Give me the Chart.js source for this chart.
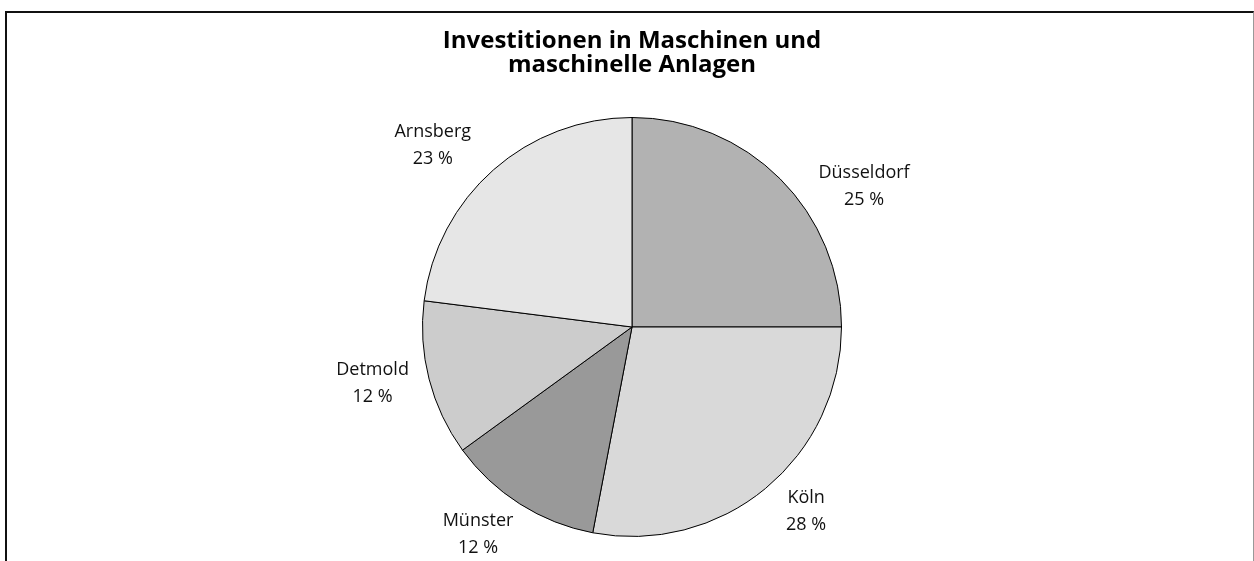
<!DOCTYPE html>
<html lang="de">
<head>
  <meta charset="UTF-8" />
  <title>Investitionen in Maschinen und maschinelle Anlagen</title>
  <script src="https://cdn.jsdelivr.net/npm/chart.js"></script>
  <style>
    html, body { margin: 0; padding: 0; background: #fff; overflow: hidden; }
    .frame { position: absolute; left: 5px; top: 11px; width: 1246px; height: 600px;
             border-left: 2px solid #111; border-top: 2px solid #111; border-right: 1px solid #999; }
    .wrap { position: absolute; left: 0; top: 0; width: 1254px; height: 561px; }
  </style>
</head>
<body>
  <div class="frame"></div>
  <div class="wrap"><canvas id="pieChart" width="1254" height="561"></canvas></div>

  <script>
    const regions = ['Düsseldorf', 'Köln', 'Münster', 'Detmold', 'Arnsberg'];
    const shares = [25, 28, 12, 12, 23];
    const sliceColors = ['#b2b2b2', '#d9d9d9', '#999999', '#cccccc', '#e6e6e6'];
    const titleLines = ['Investitionen in Maschinen und', 'maschinelle Anlagen'];

    // small hand tweaks so the labels sit where the original put them
    const labelNudge = {
      'Düsseldorf': [50, 41],
      'Köln': [10, -14],
      'Münster': [-16, -10],
      'Detmold': [-10, -8],
      'Arnsberg': [-29, 12]
    };

    const outsideLabels = {
      id: 'outsideLabels',
      afterDatasetsDraw(chart) {
        const ctx = chart.ctx;
        const meta = chart.getDatasetMeta(0);
        ctx.save();
        ctx.font = '18px "Open Sans", sans-serif';
        ctx.fillStyle = '#111';
        ctx.textAlign = 'center';
        ctx.textBaseline = 'middle';
        meta.data.forEach((arc, i) => {
          const p = arc.getProps(['x', 'y', 'startAngle', 'endAngle', 'outerRadius'], true);
          const mid = (p.startAngle + p.endAngle) / 2;
          const r = p.outerRadius + 48;
          const nudge = labelNudge[regions[i]] || [0, 0];
          const cx = p.x + Math.cos(mid) * r + nudge[0];
          const cy = p.y + Math.sin(mid) * r + nudge[1];
          ctx.fillText(regions[i], cx, cy - 13.5);
          ctx.fillText(shares[i] + ' %', cx, cy + 13.5);
        });
        ctx.restore();
      }
    };

    new Chart(document.getElementById('pieChart'), {
      type: 'pie',
      data: {
        labels: regions,
        datasets: [{
          data: shares,
          backgroundColor: sliceColors,
          borderColor: '#000',
          borderWidth: 1,
          hoverOffset: 0
        }]
      },
      options: {
        responsive: false,
        animation: false,
        layout: { padding: { top: 0, bottom: 24, left: 10, right: 0 } },
        plugins: {
          legend: { display: false },
          tooltip: { enabled: false },
          title: {
            display: true,
            text: titleLines,
            color: '#000',
            font: { family: '"Open Sans", sans-serif', size: 24, weight: 'bold', lineHeight: 1.0 },
            padding: { top: 29, bottom: 40 }
          }
        }
      },
      plugins: [outsideLabels]
    });
  </script>
</body>
</html>
